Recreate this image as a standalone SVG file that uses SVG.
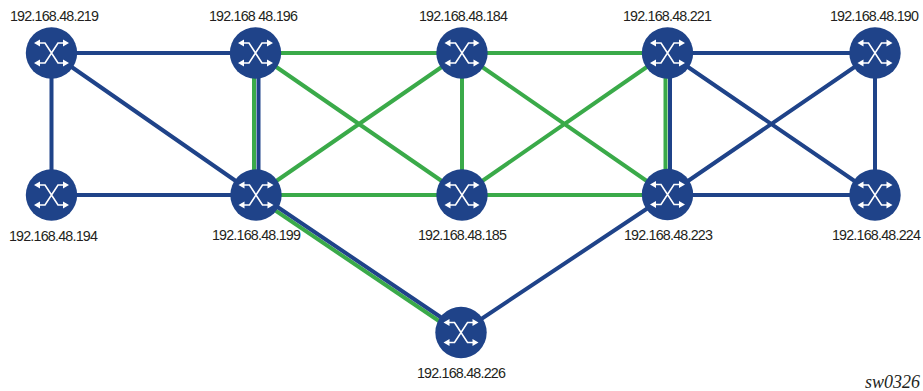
<svg xmlns="http://www.w3.org/2000/svg" width="923" height="391" viewBox="0 0 923 391">
<style>
.b{stroke:#1f4389;stroke-width:4;fill:none}
.g{stroke:#3aaa49;stroke-width:4;fill:none}
.w{stroke:#fff;stroke-width:1.6;fill:none}
.t{font-family:"Liberation Sans",Arial,sans-serif;font-size:14.300px;fill:#231f20;text-anchor:middle;letter-spacing:-.8px}
</style>
<defs>
<g id="sw">
<circle r="25.7" fill="#1f4389"/>
<path class="w" d="M-14-10H-6.500L6.500 10H14M14-10H6.500L-6.500 10H-14"/>
<path fill="#fff" d="M-11.500-13.500-17.500-10-11.500-6.500ZM11.500-13.500 17.500-10 11.500-6.500ZM-11.500 6.500-17.500 10-11.500 13.500ZM11.500 6.500 17.500 10 11.500 13.500Z"/>
</g>
</defs>
<rect width="923" height="391" fill="#fff"/>
<g id="connectors">
<path class="b" d="M51.500 53H256M51.500 53V195M51.500 195H256M51.500 53 256 195"/>
<path class="g" d="M254 53V195"/>
<path class="b" d="M258.500 53V195"/>
<path class="g" d="M256 53H667M256 195H667M256 53 462 195M256 195 462 53M462 53V195M462 53 667 195M462 195 667 53"/>
<path class="g" d="M665.500 53V195"/>
<path class="b" d="M670 53V195"/>
<path class="b" d="M667.500 53H875M667.500 195H875M875 53V195M667.500 53 875 195M667.500 195 875 53"/>
<path class="g" d="M254.500 196.500 459 334.500"/>
<path class="b" d="M257.500 193.500 462 331.500M461 332.500 667.500 195"/>
</g>
<g id="n219"><use href="#sw" x="51.500" y="53"/><text class="t" x="54" y="21">192.168.48.219</text></g>
<g id="n196"><use href="#sw" x="255.500" y="53"/><text class="t" x="253" y="21">192.168 48.196</text></g>
<g id="n184"><use href="#sw" x="462" y="53"/><text class="t" x="463" y="21">192.168.48.184</text></g>
<g id="n221"><use href="#sw" x="667.500" y="53"/><text class="t" x="667" y="21">192.168.48.221</text></g>
<g id="n190"><use href="#sw" x="875" y="53"/><text class="t" x="874" y="21">192.168.48.190</text></g>
<g id="n194"><use href="#sw" x="51.500" y="195"/><text class="t" x="53" y="241">192.168.48.194</text></g>
<g id="n199"><use href="#sw" x="256" y="195"/><text class="t" x="256" y="240">192.168.48.199</text></g>
<g id="n185"><use href="#sw" x="462" y="195"/><text class="t" x="462" y="240">192.168.48.185</text></g>
<g id="n223"><use href="#sw" x="667.500" y="194.500"/><text class="t" x="668" y="240">192.168.48.223</text></g>
<g id="n224"><use href="#sw" x="875" y="195"/><text class="t" x="876" y="240">192.168.48.224</text></g>
<g id="n226"><use href="#sw" x="461" y="332.500"/><text class="t" x="461" y="378">192.168.48.226</text></g>
<text x="920" y="388" text-anchor="end" font-family="Liberation Serif,Times New Roman,serif" font-style="italic" font-size="18" fill="#231f20">sw0326</text>
</svg>
